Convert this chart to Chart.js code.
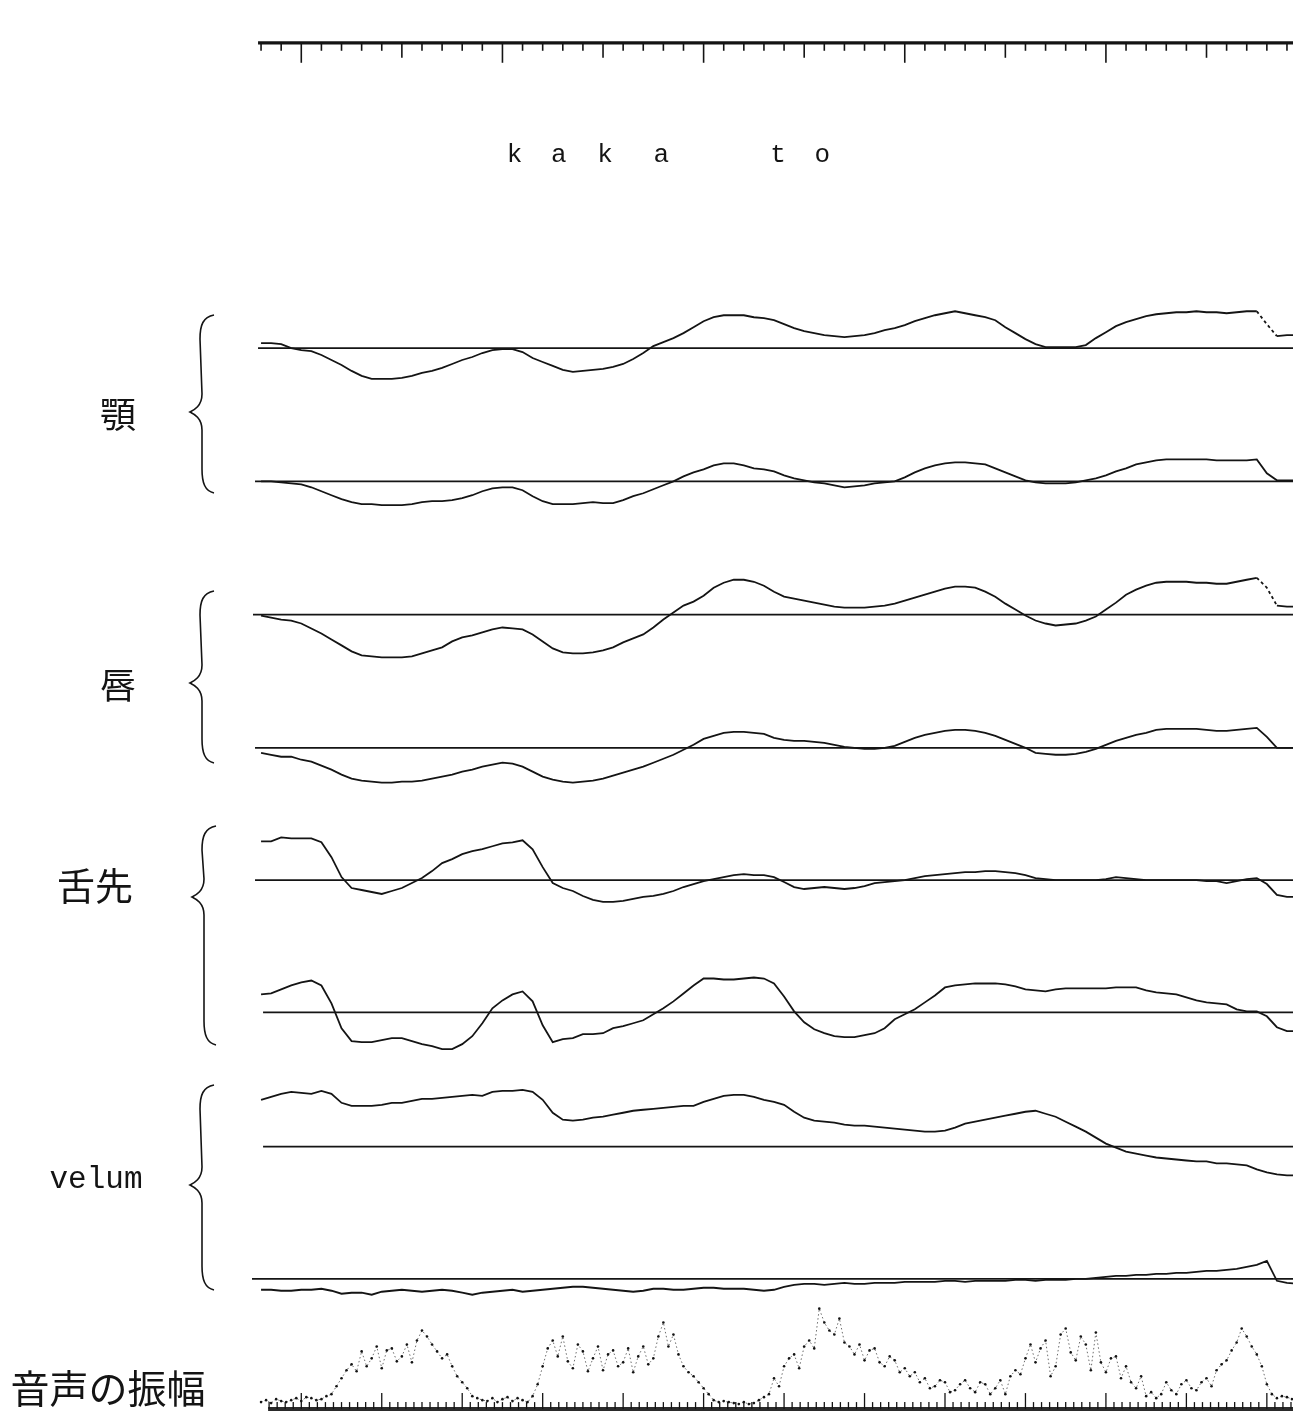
<!DOCTYPE html>
<html>
<head>
<meta charset="utf-8">
<title>kaka to</title>
<script src="https://cdn.jsdelivr.net/npm/chart.js@4.4.0/dist/chart.umd.min.js"></script>
<style>
  html, body { margin: 0; padding: 0; background: #fff; }
  canvas { display: block; }
</style>
</head>
<body>
<canvas id="trace" width="1297" height="1427"></canvas>
<script>
// Sample clock of the articulator traces (ms)
const TIME_MS = [-20,-15,-10,-5,0,5,10,15,20,25,30,35,40,45,50,55,60,65,70,75,
  80,85,90,95,100,105,110,115,120,125,130,135,140,145,150,155,160,165,170,175,
  180,185,190,195,200,205,210,215,220,225,230,235,240,245,250,255,260,265,270,275,
  280,285,290,295,300,305,310,315,320,325,330,335,340,345,350,355,360,365,370,375,
  380,385,390,395,400,405,410,415,420,425,430,435,440,445,450,455,460,465,470,475,
  480,485,490,495];

// Displacements from each channel's zero line (positive = up)
const JAW_UPPER = [5,5,4,0,-2,-3,-7,-12,-17,-23, -28,-31,-31,-31,-30,-28,-25,-23,-20,-16,
  -12,-9,-5,-2,-1,-1,-4,-10,-14,-18, -22,-24,-23,-22,-21,-19,-16,-11,-5,2,
  6,10,15,21,27,31,33,33,33,31, 30,28,24,20,17,15,13,12,11,12,
  13,15,18,20,23,27,30,33,35,37, 35,33,31,28,21,15,9,4,1,1,
  1,1,3,10,16,22,26,29,32,34, 35,36,36,37,36,36,35,36,37,37, 24,12,13,13];
const JAW_LOWER = [0,0,-1,-2,-3,-6,-10,-14,-18,-21, -23,-23,-24,-24,-24,-23,-21,-20,-20,-19,
  -17,-14,-10,-7,-6,-6,-9,-15,-20,-23, -23,-23,-22,-21,-22,-22,-19,-15,-12,-8,
  -4,0,5,9,12,16,18,18,16,13, 12,10,6,3,1,-1,-2,-4,-6,-5,
  -4,-2,-1,0,4,9,13,16,18,19, 19,18,17,13,9,5,1,-1,-2,-2,
  -2,-1,1,3,6,10,13,17,19,21, 22,22,22,22,22,21,21,21,21,22, 8,1,1,1];
const LIP_UPPER = [-1,-3,-5,-6,-9,-14,-19,-25,-31,-37, -41,-42,-43,-43,-43,-42,-39,-36,-33,-27,
  -23,-21,-18,-15,-13,-14,-15,-20,-27,-34, -38,-39,-39,-38,-36,-33,-28,-24,-20,-13,
  -5,2,9,13,19,27,32,35,35,33, 29,23,18,16,14,12,10,8,7,7,
  7,8,9,11,14,17,20,23,26,28, 28,27,23,18,11,5,-1,-6,-9,-11,
  -10,-9,-6,-2,5,12,20,25,29,32, 33,33,33,32,32,31,31,33,35,37, 27,9,8,8];
const LIP_LOWER = [-5,-7,-9,-9,-12,-14,-18,-22,-27,-31, -33,-34,-35,-35,-34,-34,-33,-31,-29,-27,
  -24,-22,-19,-17,-15,-16,-19,-24,-29,-32, -34,-35,-34,-33,-31,-28,-25,-22,-19,-15,
  -11,-7,-2,3,9,12,15,16,16,15, 14,10,8,7,7,6,5,3,1,0,
  -1,-1,0,2,6,10,13,15,17,18, 18,17,15,12,8,4,0,-5,-6,-7,
  -7,-6,-4,-1,3,7,10,13,15,18, 19,19,19,19,18,17,17,18,19,20, 11,0,0,0];
const TONGUE_UPPER = [39,39,43,42,42,42,38,23,3,-8, -10,-12,-14,-11,-8,-3,2,9,17,21,
  26,29,31,34,37,38,40,31,13,-3, -8,-11,-16,-20,-22,-22,-21,-19,-17,-16,
  -14,-11,-7,-4,-1,1,3,5,6,5, 5,3,-2,-7,-9,-8,-7,-8,-9,-8,
  -6,-3,-2,-1,0,2,4,5,6,7, 8,8,9,9,8,7,5,2,1,0,
  0,0,0,0,1,3,2,1,0,0, 0,0,0,0,-1,-1,-3,-1,1,2, -4,-15,-17,-17];
const TONGUE_LOWER = [18,19,23,27,30,32,27,9,-16,-29, -30,-30,-28,-26,-26,-29,-32,-34,-37,-37,
  -32,-24,-11,4,12,18,21,11,-13,-30, -27,-26,-22,-22,-21,-16,-14,-11,-8,-2,
  4,11,19,27,34,34,33,33,34,35, 34,29,16,1,-10,-17,-21,-24,-25,-25,
  -23,-21,-16,-7,-2,3,10,17,25,27, 28,29,29,29,28,26,23,22,21,23,
  24,24,24,24,24,25,25,25,22,20, 19,18,15,12,10,9,8,3,1,1, -4,-15,-19,-19];
const VELUM_UPPER = [47,50,53,55,54,53,56,53,44,41, 41,41,42,44,44,46,48,48,49,50,
  51,52,51,55,56,56,57,55,47,34, 27,26,27,29,30,32,34,36,37,38,
  39,40,41,41,45,48,51,52,52,50, 47,45,42,35,29,26,25,24,22,21,
  21,20,19,18,17,16,15,15,16,19, 23,25,27,29,31,33,35,36,33,30,
  25,20,15,9,3,-1,-5,-7,-9,-11, -12,-13,-14,-15,-15,-17,-17,-18,-19,-23, -26,-28,-29,-29];
const VELUM_LOWER = [-11,-11,-12,-12,-11,-11,-10,-12,-15,-14, -14,-16,-13,-12,-11,-12,-13,-12,-11,-12,
  -14,-16,-14,-13,-12,-11,-13,-12,-11,-10, -9,-8,-8,-9,-10,-11,-12,-13,-12,-10,
  -10,-11,-11,-10,-9,-9,-10,-10,-10,-11, -12,-11,-8,-6,-5,-5,-6,-5,-4,-5,
  -5,-4,-4,-4,-3,-3,-3,-3,-2,-2, -3,-2,-2,-2,-2,-1,-1,-2,-1,-1,
  -1,0,0,1,2,3,3,4,4,5, 5,6,6,7,8,8,9,10,12,14, 18,-2,-4,-5];

// Speech amplitude: samples on the clock and half a step later
const AMP_ON = [4,3,5,6,5,8,7,12,28,42, 55,48,38,58,50,44,76,62,48,40,
  24,10,6,8,7,5,6,10,40,66, 70,38,55,48,36,56,44,34,60,48,
  84,72,40,30,18,6,5,3,4,3, 9,28,40,52,60,58,84,72,64,52,
  46,58,40,46,38,34,28,20,24,16, 26,14,22,18,12,36,48,44,66,40,
  78,46,62,74,34,50,40,18,10,8, 24,12,26,16,28,36,46,64,70,52, 22,8,9,7];
const AMP_OFF = [6,7,4,8,9,6,10,20,36,35, 40,60,56,45,62,66,70,55,52,30,
  18,8,5,4,9,8,4,22,58,50, 45,62,35,60,52,40,58,50,42,70,
  60,52,34,24,12,4,4,2,2,6, 12,20,48,38,66,98,76,88,60,62,
  56,44,50,34,30,24,18,26,14,22, 18,24,12,26,30,32,62,58,30,72,
  54,70,36,44,48,28,24,30,14,12, 16,22,18,24,20,42,56,78,60,40, 12,10,7,6];

// Phoneme marks along the time axis
const PHONES = ['k', 'a', 'k', 'a', 't', 'o'];
const PHONE_MS = [106, 128, 151, 179, 237, 259];

// Channel names (left margin)
const CHANNEL_NAMES = ['顎', '唇', '舌先', 'velum', '音声の振幅'];

// ---- layout (page units, not data) ----
const INK = '#141414';
const X_MIN = -25, X_MAX = 493;
const TRACES = [
  { data: JAW_UPPER,    base: 346,  from: -21.5, dashTail: true },
  { data: JAW_LOWER,    base: 480,  from: -23 },
  { data: LIP_UPPER,    base: 614,  from: -24, dashTail: true },
  { data: LIP_LOWER,    base: 748,  from: -23 },
  { data: TONGUE_UPPER, base: 881,  from: -23 },
  { data: TONGUE_LOWER, base: 1014, from: -19 },
  { data: VELUM_UPPER,  base: 1149, from: -19 },
  { data: VELUM_LOWER,  base: 1282, from: -24.5 }
];
const AMP_BASE = 1410;
const LABEL_POS = [
  { x: 118, y: 414, font: '400 36px "Noto Sans CJK JP"' },
  { x: 118, y: 685, font: '400 36px "Noto Sans CJK JP"' },
  { x: 95,  y: 886, font: '400 38px "Noto Sans CJK JP"' },
  { x: 96,  y: 1180, font: '400 31px "Liberation Mono"' },
  { x: 108, y: 1388, font: '400 39px "Noto Sans CJK JP"' }
];
const BRACES = [
  { x: 201, top: 315, tip: 412, bottom: 493 },
  { x: 201, top: 591, tip: 683, bottom: 763 },
  { x: 203, top: 826, tip: 897, bottom: 1045 },
  { x: 201, top: 1085, tip: 1185, bottom: 1290 }
];

// datasets
const datasets = [];
TRACES.forEach(tr => {
  datasets.push({
    data: [{ x: tr.from, y: tr.base }, { x: X_MAX, y: tr.base }],
    borderColor: INK, borderWidth: 1.8, pointRadius: 0
  });
  datasets.push({
    data: TIME_MS.map((t, i) => ({ x: t, y: tr.base - tr.data[i] })),
    borderColor: INK, borderWidth: 1.8, pointRadius: 0, tension: 0,
    segment: {
      borderDash: ctx => (tr.dashTail && ctx.p0.parsed.x >= 475 && ctx.p0.parsed.x < 485) ? [3, 3] : undefined
    }
  });
});

const ampPts = [];
TIME_MS.forEach((t, i) => {
  ampPts.push({ x: t, y: AMP_BASE - AMP_ON[i] });
  ampPts.push({ x: t + 2.5, y: AMP_BASE - AMP_OFF[i] });
});
datasets.push({
  data: ampPts,
  borderColor: 'rgba(60,60,60,.75)', borderWidth: 1, borderDash: [1.5, 2.5],
  pointRadius: 1.3, pointBackgroundColor: INK, pointBorderWidth: 0, tension: 0
});

function line(ctx, x1, y1, x2, y2){
  ctx.beginPath(); ctx.moveTo(x1, y1); ctx.lineTo(x2, y2); ctx.stroke();
}

function brace(ctx, b){
  const x = b.x, tipX = b.x - 11, endX = b.x + 13;
  ctx.beginPath();
  ctx.moveTo(endX, b.top);
  ctx.bezierCurveTo(x + 2, b.top + 2, x - 1, b.top + 10, x - 1, b.top + 24);
  ctx.lineTo(x + 1, b.tip - 18);
  ctx.bezierCurveTo(x + 1, b.tip - 6, tipX + 4, b.tip - 2, tipX, b.tip);
  ctx.bezierCurveTo(tipX + 4, b.tip + 2, x + 1, b.tip + 6, x + 1, b.tip + 18);
  ctx.lineTo(x + 1, b.bottom - 24);
  ctx.bezierCurveTo(x + 1, b.bottom - 10, x + 4, b.bottom - 2, endX, b.bottom);
  ctx.stroke();
}

const paperDecor = {
  id: 'paperDecor',
  afterDraw(chart){
    const { ctx, scales: { x, y } } = chart;
    ctx.save();
    ctx.strokeStyle = INK;
    ctx.fillStyle = INK;

    // top time ruler: 10 ms ticks, 50 / 100 ms marks
    const ry = y.getPixelForValue(39);
    ctx.lineWidth = 3.2;
    line(ctx, x.getPixelForValue(-21.5), ry, x.getPixelForValue(X_MAX), ry);
    ctx.lineWidth = 1.6;
    for (let ms = -20; ms <= 490; ms += 10){
      const len = ms % 100 === 0 ? 20 : (ms % 50 === 0 ? 15 : 8);
      const px = x.getPixelForValue(ms);
      line(ctx, px, ry, px, ry + len);
    }

    // bottom ruler under the amplitude
    const by = y.getPixelForValue(1413);
    ctx.lineWidth = 4;
    ctx.strokeStyle = '#2a2a2a';
    line(ctx, x.getPixelForValue(-16.5), by, x.getPixelForValue(X_MAX), by);
    ctx.strokeStyle = INK;
    ctx.lineWidth = 1.3;
    for (let ms = -16; ms <= 492; ms += 4){
      const len = ms % 40 === 0 ? 16 : 7;
      const px = x.getPixelForValue(ms);
      line(ctx, px, by, px, by - len);
    }

    // phoneme labels
    ctx.font = '400 26px "Liberation Mono"';
    ctx.textAlign = 'center';
    ctx.textBaseline = 'alphabetic';
    PHONES.forEach((p, i) => ctx.fillText(p, x.getPixelForValue(PHONE_MS[i]), 162));

    // channel names
    ctx.textBaseline = 'middle';
    CHANNEL_NAMES.forEach((name, i) => {
      const pos = LABEL_POS[i];
      ctx.font = pos.font;
      ctx.fillText(name, pos.x, pos.y);
    });

    // braces
    ctx.lineWidth = 1.6;
    BRACES.forEach(b => brace(ctx, b));
    ctx.restore();
  }
};

new Chart(document.getElementById('trace').getContext('2d'), {
  type: 'line',
  data: { datasets },
  options: {
    responsive: false,
    animation: false,
    devicePixelRatio: 1,
    layout: { padding: { left: 251, right: 0, top: 0, bottom: 0 } },
    plugins: { legend: { display: false }, tooltip: { enabled: false } },
    scales: {
      x: { type: 'linear', min: X_MIN, max: X_MAX, display: false },
      y: { type: 'linear', min: 0, max: 1427, reverse: true, display: false }
    }
  },
  plugins: [paperDecor]
});
</script>
</body>
</html>
